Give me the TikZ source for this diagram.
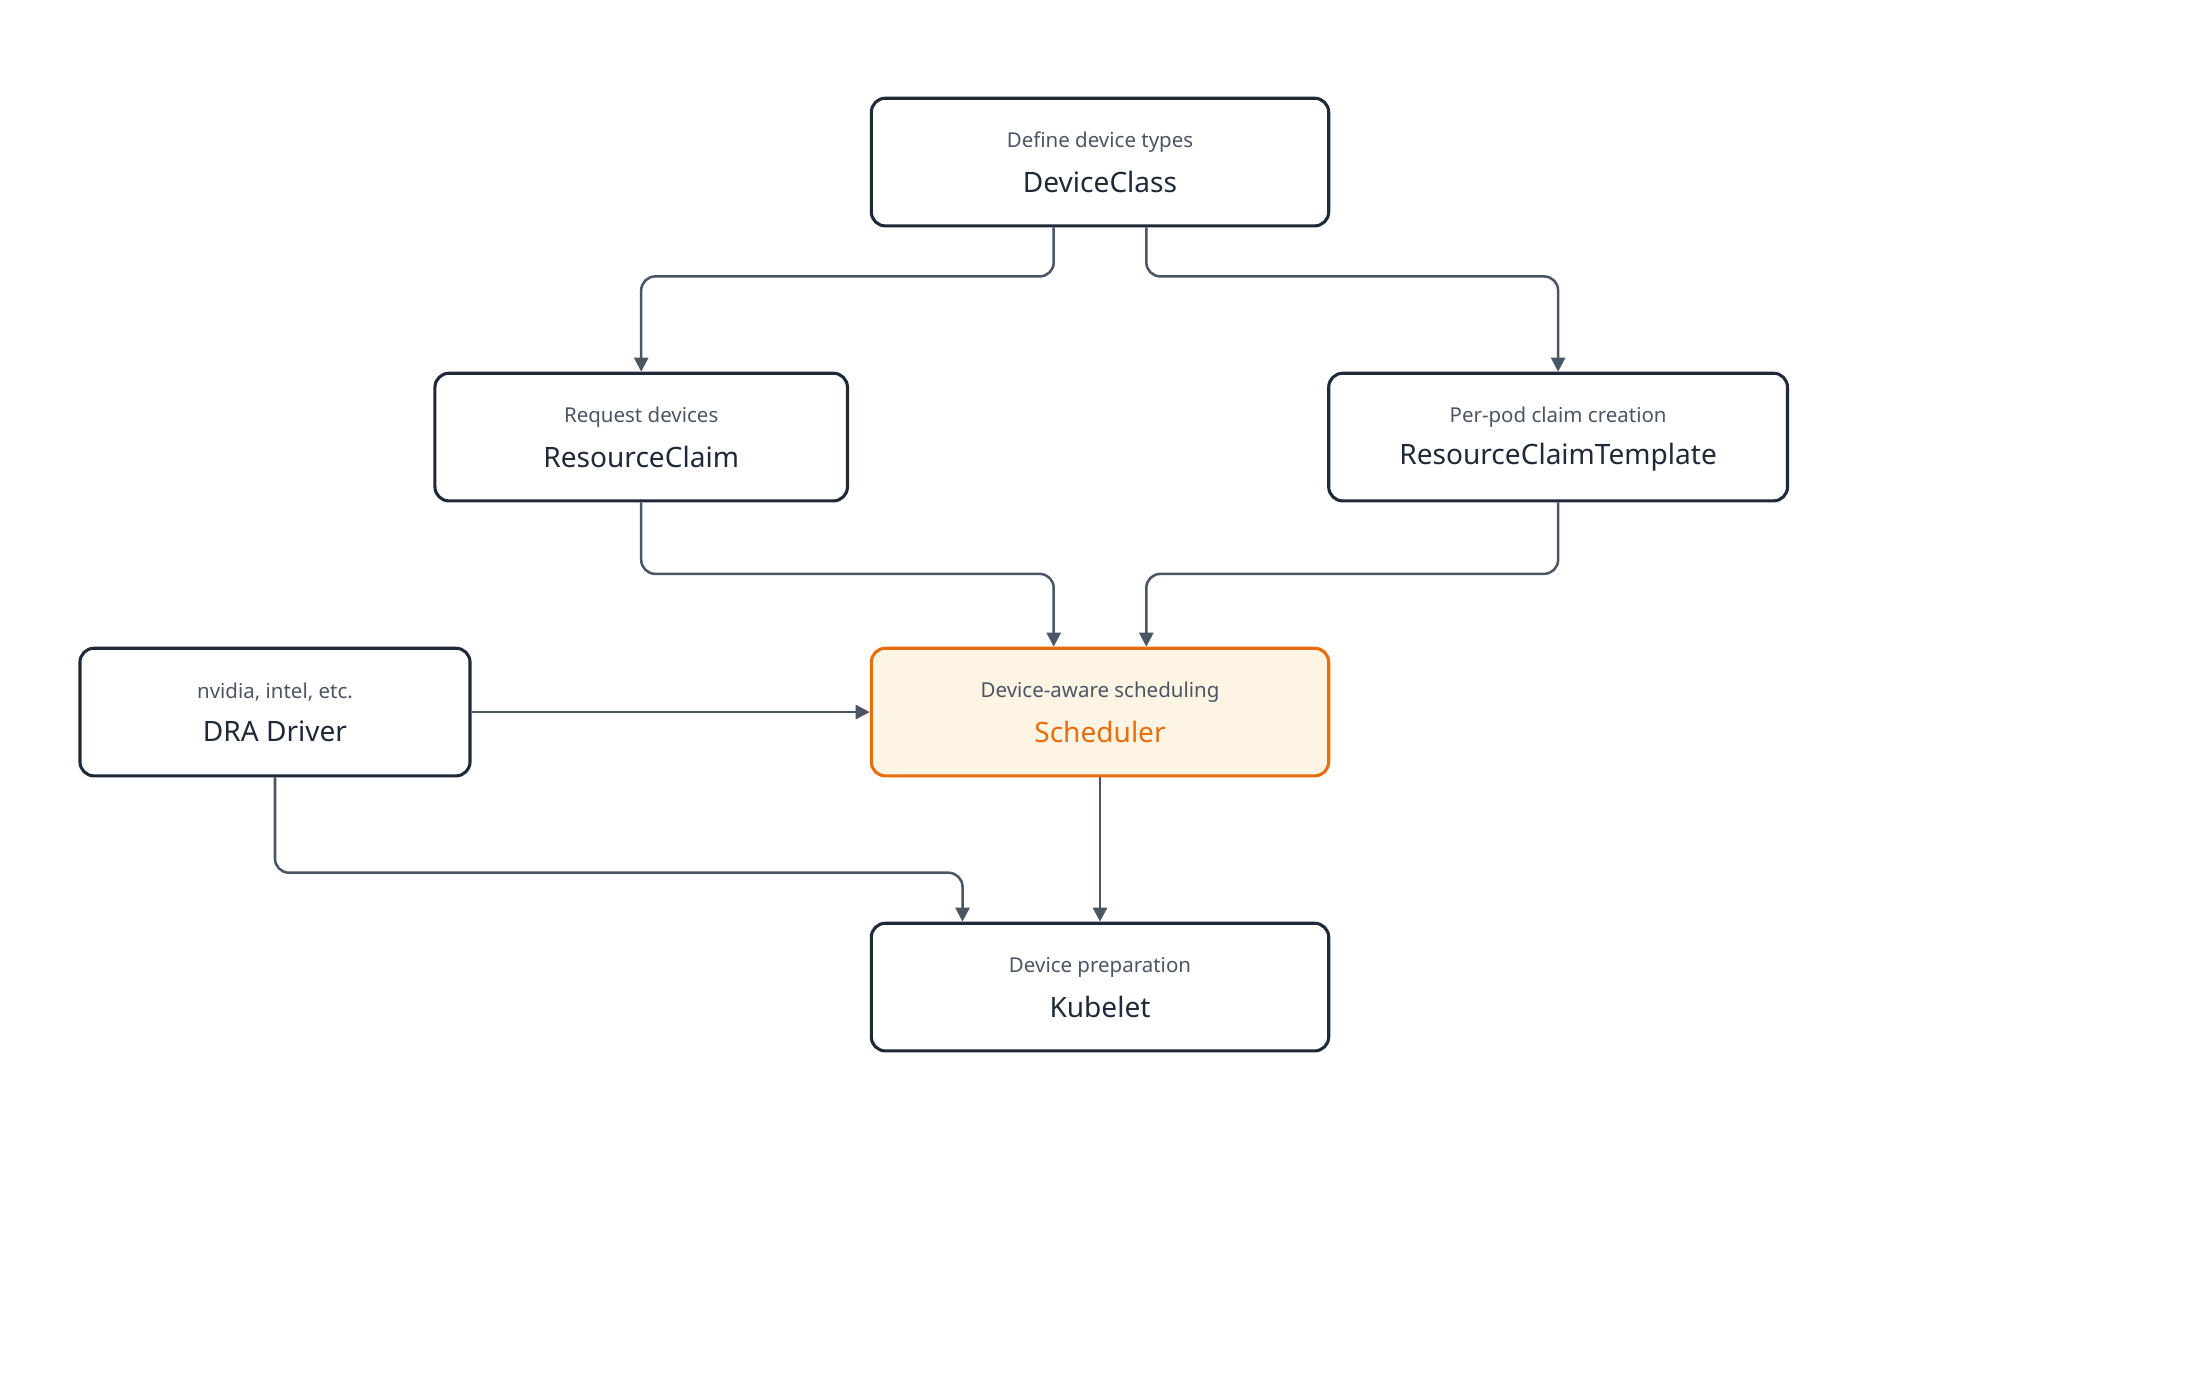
\documentclass[tikz,border=0pt]{standalone}
\usepackage{fontspec}
\setmainfont{Noto Sans}
\usetikzlibrary{arrows.meta}
\definecolor{ink}{HTML}{1F2937}
\definecolor{sub}{HTML}{4B5563}
\definecolor{arr}{HTML}{4B5563}
\definecolor{org}{HTML}{EA6C0A}
\definecolor{orgfill}{HTML}{FDF4E4}
\begin{document}
\begin{tikzpicture}[x=0.5pt,y=-0.5pt,
 box/.style={draw=ink,line width=1.1pt,rounded corners=5pt,fill=white},
 hot/.style={draw=org,line width=1.1pt,rounded corners=5pt,fill=orgfill},
 ttl/.style={font=\bfseries\fontsize{10}{12}\selectfont,text=ink},
 sbt/.style={font=\fontsize{7.3}{9}\selectfont,text=sub},
 con/.style={draw=arr,line width=0.9pt,rounded corners=5pt,-{Triangle[length=5pt,width=5pt]}}]
\useasboundingbox (0,0) rectangle (1568,982);
\newcommand{\bx}[7]{%
 \node[#7,minimum width=#3*0.5pt,minimum height=91*0.5pt,inner sep=0pt] (#1) at #2 {};
 \node[ttl,#6] (#1t) at ([yshift=-14*0.5pt]#1.center) {#4};
 \node[sbt] (#1s) at ([yshift=14*0.5pt]#1.center) {#5};}
\bx{dc}{(784,115.5)}{326}{DeviceClass}{Define device types}{}{box}
\bx{rc}{(457,311.5)}{294}{ResourceClaim}{Request devices}{}{box}
\bx{rct}{(1110.5,311.5)}{327}{ResourceClaimTemplate}{Per-pod claim creation}{}{box}
\bx{dra}{(196,507.5)}{278}{DRA Driver}{nvidia, intel, etc.}{}{box}
\bx{sch}{(784,507.5)}{326}{Scheduler}{Device-aware scheduling}{text=org}{hot}
\bx{kub}{(784,703.5)}{326}{Kubelet}{Device preparation}{}{box}
\draw[con] ([xshift=-33*0.5pt]dc.south) |- (604,197) -| (rc.north);
\draw[con] ([xshift=33*0.5pt]dc.south) |- (960,197) -| (rct.north);
\draw[con] (rc.south) |- (600,409) -| ([xshift=-33*0.5pt]sch.north);
\draw[con] (rct.south) |- (960,409) -| ([xshift=33*0.5pt]sch.north);
\draw[con] (dra.east) -- (sch.west);
\draw[con] (dra.south) |- (500,622) -| ([xshift=-98*0.5pt]kub.north);
\draw[con] (sch.south) -- (kub.north);
\end{tikzpicture}
\end{document}
